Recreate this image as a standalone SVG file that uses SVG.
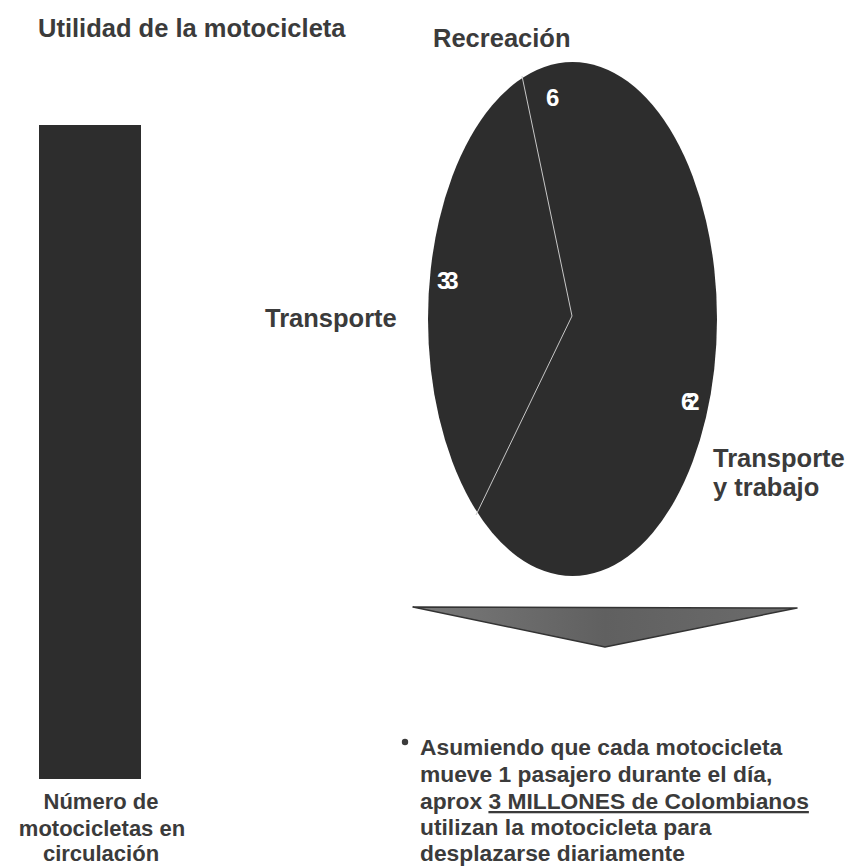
<svg xmlns="http://www.w3.org/2000/svg" width="847" height="867" viewBox="0 0 847 867">
<defs>
<style>
text{font-family:"Liberation Sans",Arial,sans-serif;font-weight:bold;fill:#3b3b3b}
.h{font-size:25.5px}
.cap{font-size:22px;text-anchor:middle}
.b{font-size:22.8px}
.num{fill:#ffffff;font-size:24px}
.dark{fill:#2d2d2d}
</style>
<linearGradient id="tri" x1="0" y1="0" x2="1" y2="0">
<stop offset="0" stop-color="#7a7a7a"/>
<stop offset="0.5" stop-color="#606060"/>
<stop offset="1" stop-color="#6c6c6c"/>
</linearGradient>
</defs>
<rect width="847" height="867" fill="#ffffff"/>
<g id="title"><text class="h" x="38" y="37" font-size="26">Utilidad de la motocicleta</text></g>
<g id="bar">
<rect class="dark" x="39" y="125" width="102" height="654"/>
<text class="cap" x="101" y="809">Número de</text>
<text class="cap" x="102" y="836">motocicletas en</text>
<text class="cap" x="101" y="861">circulación</text>
</g>
<g id="pie">
<ellipse class="dark" cx="572.5" cy="319" rx="144.5" ry="257"/>
<polyline points="522,76 572,316 476,515" fill="none" stroke="#c8c8c8" stroke-width="1"/>
<text class="num" x="546" y="106">6</text>
<text class="num" x="437" y="289" letter-spacing="-5">33</text>
<text class="num" x="681" y="410" font-size="29" letter-spacing="-8">62</text>
</g>
<g id="label-recreacion"><text class="h" x="433" y="47">Recreación</text></g>
<g id="label-transporte"><text class="h" x="265" y="327">Transporte</text></g>
<g id="label-transporte-trabajo">
<text class="h" x="713" y="467">Transporte</text>
<text class="h" x="713" y="496">y trabajo</text>
</g>
<g id="connectors">
<polygon points="413,607 797,608 605,647" fill="url(#tri)" stroke="#333333" stroke-width="1.5" stroke-linejoin="round"/>
</g>
<g id="bullet-text">
<circle cx="405" cy="742" r="3.2" fill="#3b3b3b"/>
<text class="b" x="420" y="755">Asumiendo que cada motocicleta</text>
<text class="b" x="420" y="782">mueve 1 pasajero durante el día,</text>
<text class="b" x="420" y="809">aprox <tspan text-decoration="underline">3 MILLONES de Colombianos</tspan></text>
<text class="b" x="420" y="835">utilizan la motocicleta para</text>
<text class="b" x="420" y="861">desplazarse diariamente</text>
</g>
</svg>
